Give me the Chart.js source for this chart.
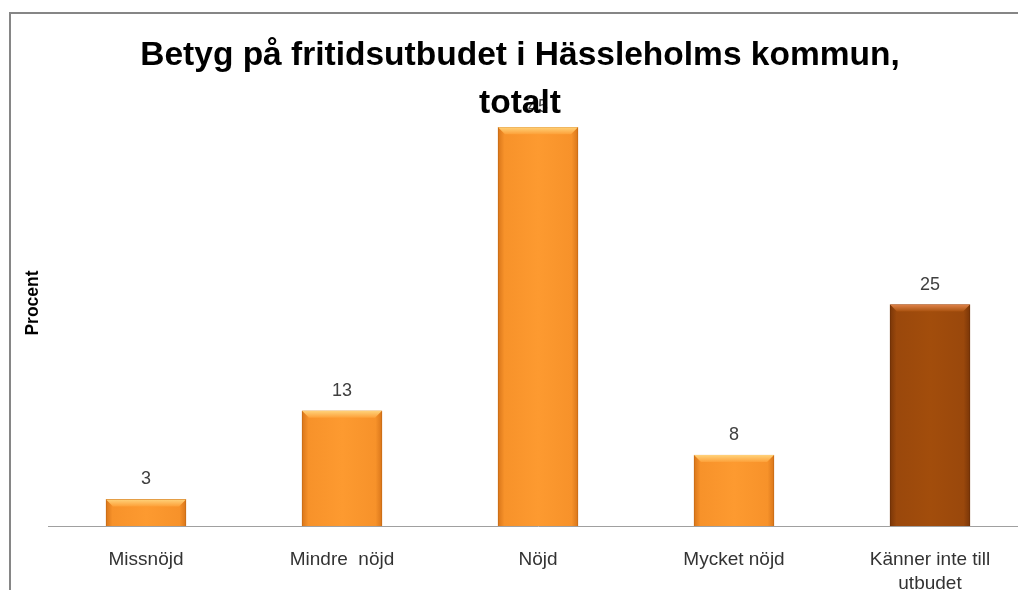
<!DOCTYPE html>
<html>
<head>
<meta charset="utf-8">
<script src="https://cdn.jsdelivr.net/npm/chart.js@4.4.1/dist/chart.umd.min.js"></script>
<style>
  html, body { margin: 0; padding: 0; background: #fff; overflow: hidden; }
  #wrap { width: 1018px; height: 590px; overflow: hidden; position: relative; }
  #box { width: 1040px; height: 590px; position: absolute; left: 0; top: 0; }
</style>
</head>
<body>
<div id="wrap"><div id="box"><canvas id="c"></canvas></div></div>
<script>
const categories = ["Missnöjd", "Mindre  nöjd", "Nöjd", "Mycket nöjd", ["Känner inte till", "utbudet"]];
const values = [3, 13, 45, 8, 25];
const titleLines = ["Betyg på fritidsutbudet i Hässleholms kommun,", "totalt"];
const yTitle = "Procent";

const FONT = "'Liberation Sans', Arial, sans-serif";
const BAR_W = 80;

function barFill(ctx) {
  const isDark = ctx.dataIndex === values.length - 1;
  const chart = ctx.chart;
  const fallback = isDark ? '#9c4a0b' : '#f7952b';
  const xs = chart.scales && chart.scales.x;
  if (!xs || !chart.chartArea) return fallback;
  const cx = xs.getPixelForValue(ctx.dataIndex);
  if (!isFinite(cx)) return fallback;
  const x0 = cx - BAR_W / 2, x1 = cx + BAR_W / 2;
  const g = chart.ctx.createLinearGradient(x0, 0, x1, 0);
  if (isDark) {
    g.addColorStop(0, '#7a3608');
    g.addColorStop(0.08, '#9a480c');
    g.addColorStop(0.5, '#a24d0c');
    g.addColorStop(0.92, '#9a480c');
    g.addColorStop(1, '#7a3608');
  } else {
    g.addColorStop(0, '#d9761a');
    g.addColorStop(0.08, '#f7922a');
    g.addColorStop(0.5, '#fd9a30');
    g.addColorStop(0.92, '#f7922a');
    g.addColorStop(1, '#d9761a');
  }
  return g;
}

const decorPlugin = {
  id: 'decor',
  beforeDraw(chart) {
    const ctx = chart.ctx;
    ctx.save();
    ctx.fillStyle = '#ffffff';
    ctx.fillRect(0, 0, chart.width, chart.height);
    ctx.strokeStyle = '#868686';
    ctx.lineWidth = 2;
    ctx.strokeRect(10, 13, 1200, 800);
    ctx.restore();
  },
  afterDatasetsDraw(chart) {
    const ctx = chart.ctx;
    const meta = chart.getDatasetMeta(0);
    ctx.save();
    meta.data.forEach((bar, i) => {
      const dark = i === values.length - 1;
      const w = bar.width, x0 = bar.x - w / 2, x1 = bar.x + w / 2, top = bar.y;
      if (![w, x0, x1, top].every(isFinite)) return;
      ctx.beginPath();
      ctx.moveTo(x0, top);
      ctx.lineTo(x1, top);
      ctx.lineTo(x1 - 7, top + 7);
      ctx.lineTo(x0 + 7, top + 7);
      ctx.closePath();
      const g = ctx.createLinearGradient(0, top, 0, top + 7);
      if (dark) { g.addColorStop(0, '#e0834a'); g.addColorStop(1, '#a9520f'); }
      else { g.addColorStop(0, '#ffd27a'); g.addColorStop(1, '#fda038'); }
      ctx.fillStyle = g;
      ctx.fill();
      ctx.fillStyle = '#404040';
      ctx.font = '18px ' + FONT;
      ctx.textAlign = 'center';
      ctx.textBaseline = 'alphabetic';
      ctx.fillText(String(values[i]), bar.x, top - 15);
    });
    ctx.restore();
  },
  afterDraw(chart) {
    const ctx = chart.ctx;
    ctx.save();
    ctx.fillStyle = '#000000';
    ctx.font = 'bold 33.5px ' + FONT;
    ctx.textAlign = 'center';
    ctx.textBaseline = 'alphabetic';
    ctx.fillText(titleLines[0], 520, 65);
    ctx.fillText(titleLines[1], 520, 113);
    ctx.translate(38, 303);
    ctx.rotate(-Math.PI / 2);
    ctx.font = 'bold 17.5px ' + FONT;
    ctx.fillText(yTitle, 0, 0);
    ctx.restore();
  }
};

new Chart(document.getElementById('c'), {
  type: 'bar',
  data: {
    labels: categories,
    datasets: [{
      data: values,
      backgroundColor: barFill,
      borderColor: (ctx) => ctx.dataIndex === values.length - 1 ? '#6e3006' : '#c86a14',
      borderWidth: 1,
      barThickness: BAR_W
    }]
  },
  options: {
    responsive: true,
    maintainAspectRatio: false,
    animation: false,
    layout: { padding: { left: 48, right: 12, top: 83, bottom: 0 } },
    plugins: { legend: { display: false }, title: { display: false }, tooltip: { enabled: false } },
    scales: {
      x: {
        grid: { display: false },
        border: { display: true, color: '#a0a0a0', width: 1 },
        ticks: {
          color: '#333333',
          font: { family: FONT, size: 19, lineHeight: 1.25 },
          padding: 14,
          maxRotation: 0,
          autoSkip: false
        },
        afterFit(scale) { scale.height = 64; }
      },
      y: {
        display: false,
        min: 0,
        max: 50
      }
    }
  },
  plugins: [decorPlugin]
});
</script>
</body>
</html>
